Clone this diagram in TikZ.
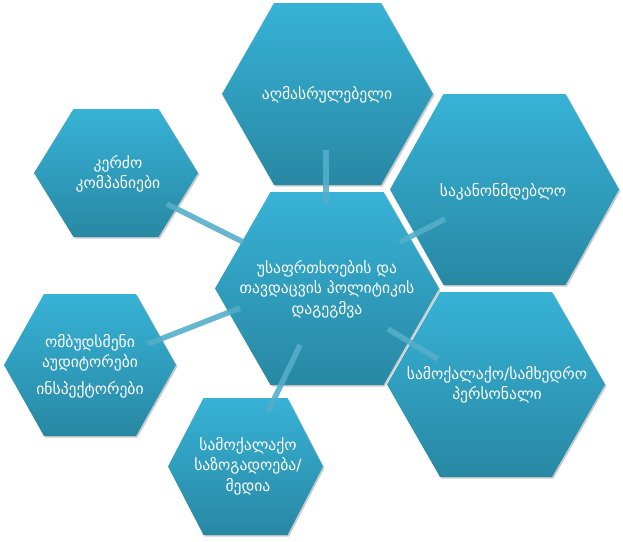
\documentclass[tikz,border=0pt]{standalone}
\usepackage{fontspec}
\setmainfont{DejaVu Sans}
\definecolor{hextop}{RGB}{55,178,214}
\definecolor{hexbot}{RGB}{40,136,163}
\definecolor{linkcol}{RGB}{84,174,202}
\begin{document}
\begin{tikzpicture}[x=1pt,y=-1pt,
  hexlabel/.style={text=white,align=center,font=\fontsize{15.6}{20.5}\selectfont},
  link/.style={linkcol,line width=5.5pt,opacity=0.9}]
  \useasboundingbox (0,0) rectangle (623,541);
  \foreach \cx/\cy/\hw/\hh/\tw in {327.5/94/105.5/91/53.5, 327/288.5/112/96.5/56.5,
      504.5/189.5/114.5/95.5/61, 496/384.5/109/92.5/56, 245.5/466.5/77.5/68.5/42,
      90/365/86/71/46, 116/173/82/64/42.5} {
    \fill[black!45,opacity=0.45,xshift=1.5pt,yshift=-1.5pt] (\cx-\hw,\cy) -- (\cx-\tw,\cy-\hh)
      -- (\cx+\tw,\cy-\hh) -- (\cx+\hw,\cy) -- (\cx+\tw,\cy+\hh) -- (\cx-\tw,\cy+\hh) -- cycle;
    \shade[top color=hextop,bottom color=hexbot] (\cx-\hw,\cy) -- (\cx-\tw,\cy-\hh)
      -- (\cx+\tw,\cy-\hh) -- (\cx+\hw,\cy) -- (\cx+\tw,\cy+\hh) -- (\cx-\tw,\cy+\hh) -- cycle;
  }
  \node[hexlabel] (exec) at (327,95) {აღმასრულებელი};
  \node[hexlabel] (centre) at (327,289) {უსაფრთხოების და\\თავდაცვის პოლიტიკის\\დაგეგმვა};
  \node[hexlabel] (legis) at (503,192) {საკანონმდებლო};
  \node[hexlabel] (pers) at (497,385) {სამოქალაქო/სამხედრო\\პერსონალი};
  \node[hexlabel] (media) at (248,466) {სამოქალაქო\\საზოგადოება/\\მედია};
  \node[hexlabel] (ombud) at (90,366) {ომბუდსმენი\\აუდიტორები\\[6pt]ინსპექტორები};
  \node[hexlabel] (priv) at (118,174) {კერძო\\კომპანიები};
  \coordinate (exec-in) at (326,203);
  \coordinate (exec-out) at (326,150);
  \coordinate (priv-in) at (243,242);
  \coordinate (priv-out) at (167,204);
  \coordinate (legis-in) at (400,242);
  \coordinate (legis-out) at (445,219);
  \coordinate (ombud-in) at (240,308);
  \coordinate (ombud-out) at (148,344);
  \coordinate (media-in) at (300,345);
  \coordinate (media-out) at (268,412);
  \coordinate (pers-in) at (388,329);
  \coordinate (pers-out) at (438,359);
  \foreach \nm in {exec,priv,legis,ombud,media,pers}
    \draw[link] (\nm-in) -- (\nm-out);
\end{tikzpicture}
\end{document}
